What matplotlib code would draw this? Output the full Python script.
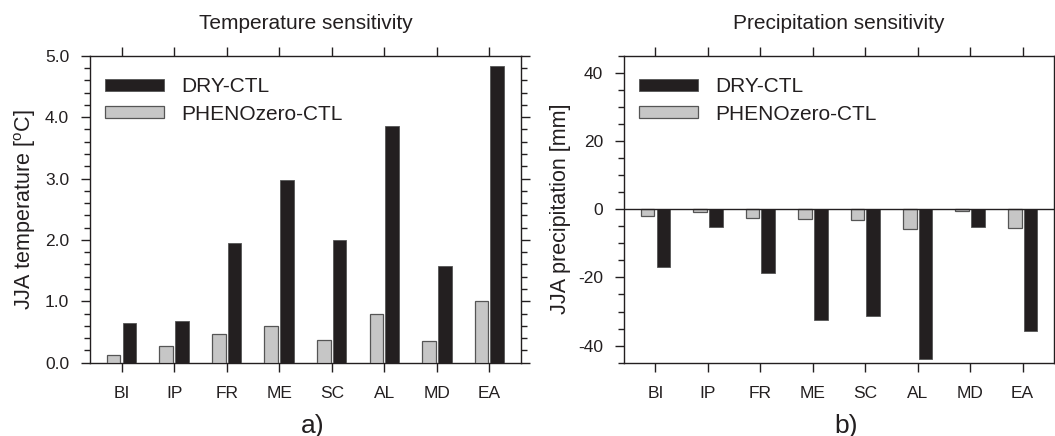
import numpy as np
import matplotlib
matplotlib.use("Agg")
import matplotlib.pyplot as plt
from matplotlib.ticker import MultipleLocator, FormatStrFormatter

plt.rcParams["font.family"] = ["Liberation Sans", "DejaVu Sans"]
plt.rcParams["axes.unicode_minus"] = False

regions = ["BI", "IP", "FR", "ME", "SC", "AL", "MD", "EA"]
# JJA temperature change [degC]
t_dry = [0.65, 0.68, 1.95, 2.98, 2.00, 3.85, 1.58, 4.83]
t_pheno = [0.13, 0.27, 0.47, 0.60, 0.37, 0.80, 0.36, 1.00]
# JJA precipitation change [mm]
p_dry = [-16.8, -5.3, -18.7, -32.5, -31.3, -43.9, -5.2, -35.8]
p_pheno = [-1.9, -0.9, -2.6, -2.9, -3.2, -5.7, -0.6, -5.4]

INK = "#231f20"
GRAY = "#c6c6c6"
W = 0.26
x = np.arange(1, len(regions) + 1)

fig = plt.figure(figsize=(10.55, 4.36), dpi=100)
axa = fig.add_axes([0.0853, 0.1681, 0.4085, 0.7041])
axb = fig.add_axes([0.5915, 0.1681, 0.4076, 0.7041])


def panel(ax, dry, pheno, ylim, major, minor, fmt, ylabel, title, tag):
    ax.bar(x + 0.15, dry, W, color=INK, edgecolor="#555555", lw=0.6,
           label="DRY-CTL", zorder=3)
    ax.bar(x - 0.15, pheno, W, color=GRAY, edgecolor="#555555", lw=0.9,
           label="PHENOzero-CTL", zorder=3)
    ax.set_xlim(0.4, 8.6)
    ax.set_ylim(*ylim)
    ax.set_xticks(x)
    ax.set_xticklabels(regions)
    ax.yaxis.set_major_locator(MultipleLocator(major))
    ax.yaxis.set_minor_locator(MultipleLocator(minor))
    ax.yaxis.set_major_formatter(FormatStrFormatter(fmt))
    ax.tick_params(axis="both", which="both", direction="out", colors=INK,
                   top=True, right=True, labelsize=12.5, width=1.0)
    ax.tick_params(axis="x", which="minor", top=False, bottom=False)
    ax.tick_params(which="major", length=6.5)
    ax.tick_params(which="minor", length=4.3)
    ax.tick_params(axis="x", pad=10)
    ax.tick_params(axis="y", pad=8.5)
    for s in ax.spines.values():
        s.set_linewidth(1.0)
        s.set_color(INK)
    ax.set_ylabel(ylabel, fontsize=15.5, color=INK, labelpad=5)
    ax.set_title(title, fontsize=15, color=INK, pad=19)
    h, l = ax.get_legend_handles_labels()
    ax.legend(h, l, loc="upper left", bbox_to_anchor=(0.035, 0.93),
              frameon=False, fontsize=15, borderpad=0, borderaxespad=0,
              handlelength=2.85, handleheight=0.5, handletextpad=0.8,
              labelspacing=0.4, labelcolor=INK)
    ax.text(0.517, -0.205, tag, transform=ax.transAxes, ha="center",
            va="center", fontsize=19, color=INK)


panel(axa, t_dry, t_pheno, (0, 5.0), 1.0, 0.2, "%.1f",
      "JJA temperature [$\\mathregular{^oC}$]", "Temperature sensitivity", "a)")
panel(axb, p_dry, p_pheno, (-45, 45), 20, 5, "%d",
      "JJA precipitation [mm]", "Precipitation sensitivity", "b)")
axb.axhline(0, color=INK, lw=1.0, zorder=4)

fig.savefig("out.png", dpi=100)
